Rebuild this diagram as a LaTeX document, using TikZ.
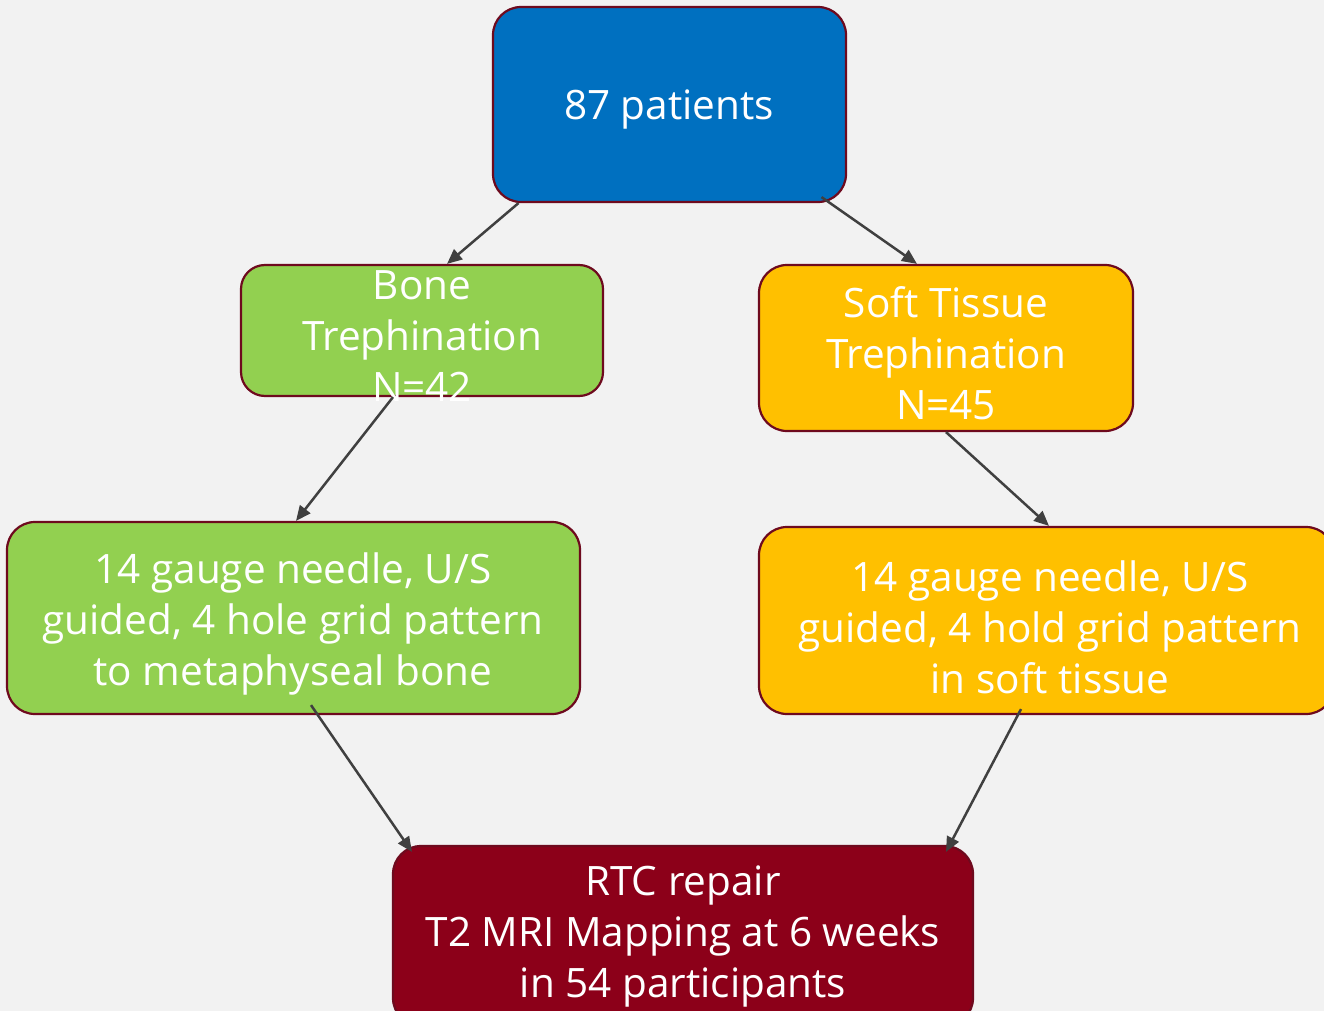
\documentclass[tikz,border=0pt]{standalone}
\usepackage{fontspec}
\setmainfont{Open Sans}
\usetikzlibrary{arrows.meta}
\definecolor{bg}{HTML}{F2F2F2}
\definecolor{edge}{HTML}{6E0A1E}
\definecolor{topblue}{HTML}{0070C0}
\definecolor{boxgreen}{HTML}{92D050}
\definecolor{boxyellow}{HTML}{FFC000}
\definecolor{boxred}{HTML}{8C0019}
\definecolor{arr}{HTML}{404040}
\tikzset{
  box/.style={draw=edge, line width=2.2pt, rounded corners=28pt, inner sep=0pt},
  lbl/.style={text=white, align=center, inner sep=0pt, font=\fontsize{40.5}{51}\selectfont},
  conn/.style={draw=arr, line width=2.5pt, -{Triangle[length=15pt,width=13pt]}},
}
\begin{document}
\begin{tikzpicture}[x=1pt,y=-1pt]
\fill[bg] (0,0) rectangle (1324,1011);
\useasboundingbox (0,0) rectangle (1324,1011);
\clip (0,0) rectangle (1324,1011);
% boxes
\node[box, fill=topblue, minimum width=353pt, minimum height=195pt] (top) at (669.5,104.5) {};
\node[box, fill=boxgreen, minimum width=362pt, minimum height=131pt, rounded corners=24pt] (bone) at (422,330.5) {};
\node[box, fill=boxyellow, minimum width=374pt, minimum height=166pt] (soft) at (946,348) {};
\node[box, fill=boxgreen, minimum width=573pt, minimum height=192pt] (lmid) at (293.5,618) {};
\node[box, fill=boxyellow, minimum width=575pt, minimum height=187pt] (rmid) at (1046.5,620.5) {};
\node[box, fill=boxred, minimum width=580pt, minimum height=180pt] (bot) at (683,936) {};
% texts
\node[lbl] (ttop) at (669,110) {87 patients};
\node[lbl] (tbone) at (422,336) {Bone\\Trephination\\N=42};
\node[lbl] (tsoft) at (946,353) {Soft Tissue\\Trephination\\N=45};
\node[lbl] (tlmid) at (293,624) {14 gauge needle, U/S\\guided, 4 hole grid pattern\\to metaphyseal bone};
\node[lbl] (trmid) at (1050,627) {14 gauge needle, U/S\\guided, 4 hold grid pattern\\in soft tissue};
\node[lbl] (tbot) at (683,936) {RTC repair\\T2 MRI Mapping at 6 weeks\\in 54 participants};
% connectors
\draw[conn] ([xshift=-151pt]top.south) -- ([xshift=25pt]bone.north);
\draw[conn] ([xshift=152pt,yshift=6pt]top.south) -- ([xshift=-29pt]soft.north);
\draw[conn] ([xshift=-29pt]bone.south) -- ([xshift=2.5pt]lmid.north);
\draw[conn] (soft.south) -- ([xshift=2.5pt]rmid.north);
\draw[conn] ([xshift=17.5pt,yshift=10pt]lmid.south) -- ([xshift=-271pt,yshift=-7pt]bot.north);
\draw[conn] ([xshift=-25.5pt,yshift=6pt]rmid.south) -- ([xshift=263pt,yshift=-7pt]bot.north);
\end{tikzpicture}
\end{document}
